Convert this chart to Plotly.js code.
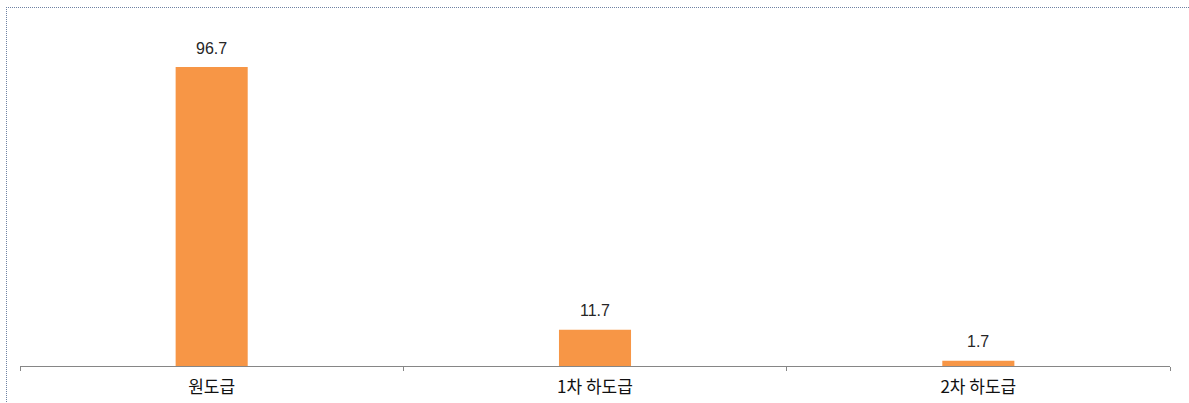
<!DOCTYPE html>
<html>
<head>
<meta charset="utf-8">
<script src="https://cdn.plot.ly/plotly-3.0.1.min.js"></script>
<style>
  html, body { margin: 0; padding: 0; background: #ffffff; }
  #wrap { position: relative; width: 1189px; height: 403px; overflow: hidden; }
  #chart { position: absolute; left: 0; top: 0; width: 1189px; height: 403px; }
  #frame { position: absolute; left: 6px; top: 7px; width: 1200px; height: 420px;
           border-top: 1px dotted #6f82a3; border-left: 1px dotted #6f82a3; pointer-events: none; }
</style>
</head>
<body>
<div id="wrap">
  <div id="chart"></div>
  <div id="frame"></div>
</div>
<script>
const categories = ['원도급', '1차 하도급', '2차 하도급'];
const values = [96.7, 11.7, 1.7];
const valueLabels = ['96.7', '11.7', '1.7'];

const trace = {
  type: 'bar',
  x: categories,
  y: values,
  marker: { color: '#F79646', line: { width: 0 } },
  hoverinfo: 'skip'
};

const annotations = categories.map((c, i) => ({
  x: c, y: values[i], xref: 'x', yref: 'y',
  text: valueLabels[i], showarrow: false,
  yanchor: 'middle', yshift: 19,
  font: { family: 'Liberation Sans, Arial, sans-serif', size: 16, color: '#262626' }
}));

const layout = {
  width: 1189, height: 403,
  margin: { l: 20, r: 19, t: 26, b: 37, pad: 0 },
  paper_bgcolor: '#ffffff', plot_bgcolor: '#ffffff',
  showlegend: false,
  bargap: 0.812,
  xaxis: {
    type: 'category',
    tickson: 'boundaries',
    ticks: 'outside', ticklen: 4, tickcolor: '#868686', tickwidth: 1,
    showline: true, linecolor: '#868686', linewidth: 1,
    showgrid: false, zeroline: false,
    tickfont: { family: 'Noto Sans CJK KR, sans-serif', size: 17, color: '#111111' },
    ticklabelstandoff: 6
  },
  yaxis: {
    range: [0, 110],
    visible: false, showgrid: false, zeroline: false
  },
  annotations: annotations
};

Plotly.newPlot('chart', [trace], layout, { displayModeBar: false, staticPlot: true });
</script>
</body>
</html>
